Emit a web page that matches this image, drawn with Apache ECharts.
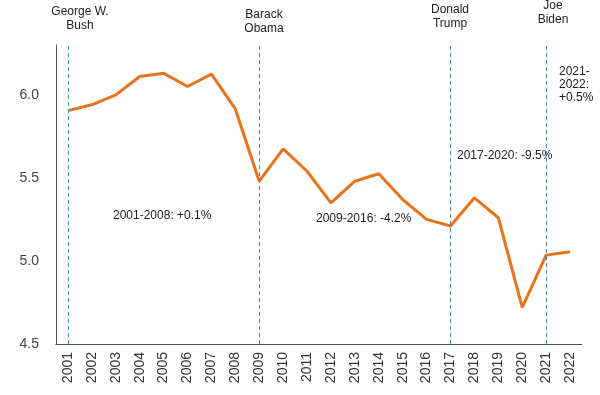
<!DOCTYPE html>
<html><head><meta charset="utf-8">
<script src="https://cdn.jsdelivr.net/npm/echarts@6/dist/echarts.min.js"></script>
<style>html,body{margin:0;padding:0;background:#fff}#c{width:600px;height:395px}</style>
</head><body><div id="c"></div>
<script>
var years = ['2001','2002','2003','2004','2005','2006','2007','2008','2009','2010','2011','2012','2013','2014','2015','2016','2017','2018','2019','2020','2021','2022'];
var values = [5.905,5.94,6.0,6.11,6.13,6.05,6.125,5.915,5.48,5.675,5.54,5.35,5.48,5.525,5.37,5.25,5.21,5.38,5.26,4.72,5.035,5.055];
var termStarts = ['2001','2009','2017','2021'];
var presidents = ['George W.\nBush','Barack\nObama','Donald\nTrump','Joe\nBiden'];
var changes = ['2001-2008: +0.1%','2009-2016: -4.2%','2017-2020: -9.5%','2021-\n2022:\n+0.5%'];

var font = 'Liberation Sans, Arial, sans-serif';
var chart = echarts.init(document.getElementById('c'));
function label(text, x, y, align, lh){
  return {type:'text', x:x, y:y, style:{text:text, font:'12px '+font, fill:'#222', align:align, lineHeight:lh||14}};
}
chart.setOption({
  animation:false,
  grid:{left:56,right:18,top:45,bottom:51},
  xAxis:{type:'category',data:years,boundaryGap:true,
    axisLine:{lineStyle:{color:'#555',width:1}},axisTick:{show:false},
    axisLabel:{rotate:90,fontSize:14,color:'#333',fontFamily:font,margin:8,interval:0}},
  yAxis:{type:'value',min:4.5,max:6.3,interval:0.5,
    axisLine:{show:true,lineStyle:{color:'#555',width:1}},axisTick:{show:false},splitLine:{show:false},
    axisLabel:{fontSize:14,color:'#444',fontFamily:font,margin:17,
      formatter:function(v){return (Math.abs(v*2-Math.round(v*2))<1e-6)?v.toFixed(1):'';}}},
  series:[{type:'line',data:values,symbol:'none',lineStyle:{color:'#E8731C',width:3},
    markLine:{silent:true,symbol:['none','none'],label:{show:false},
      lineStyle:{color:'#4A8FAA',type:[4,3],width:1},
      data:termStarts.map(function(y){return {xAxis:y};})}}],
  graphic:[
    label(presidents[0],80,5,'center'),
    label(presidents[1],264,8,'center'),
    label(presidents[2],450,3,'center'),
    label(presidents[3],553,-1,'center'),
    label(changes[0],113,209,'left'),
    label(changes[1],316,212,'left'),
    label(changes[2],457,149,'left'),
    label(changes[3],559,65,'left',13)
  ]
});
</script></body></html>
